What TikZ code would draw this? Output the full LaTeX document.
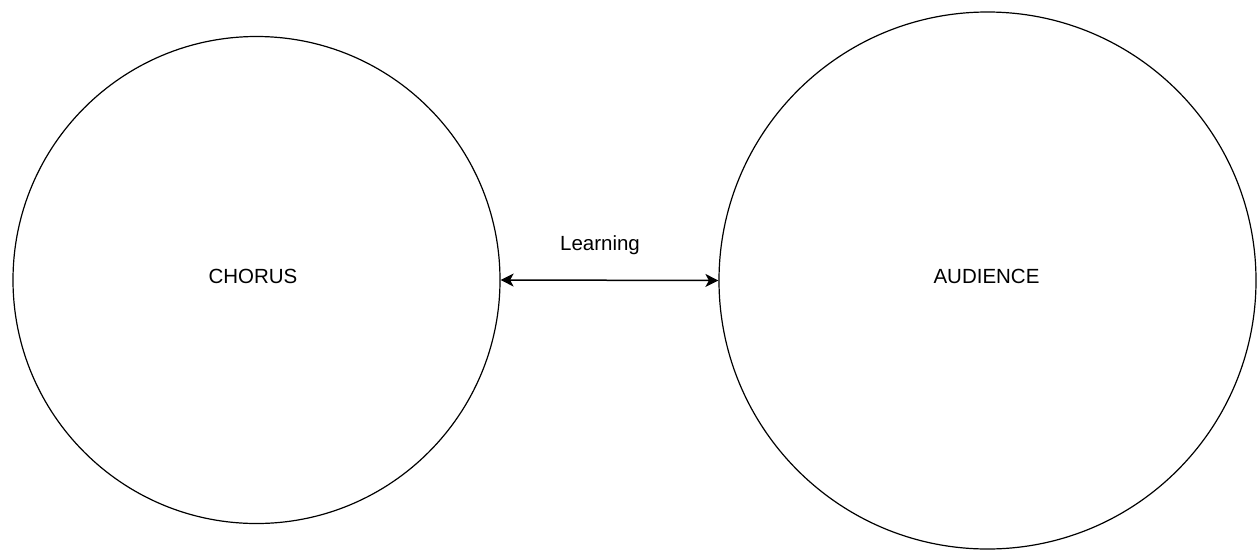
\documentclass[tikz,border=0pt]{standalone}
\usepackage{fontspec}
\setmainfont{Liberation Sans}
\usetikzlibrary{arrows.meta}
\tikzset{
  bubble/.style={draw=black, line width=1.2pt, circle, inner sep=0pt, font=\fontsize{20.5}{24}\selectfont},
  link/.style={line width=1.5pt, {Stealth[length=13pt,width=13pt,inset=3.5pt]}-{Stealth[length=13pt,width=13pt,inset=3.5pt]}},
  caption/.style={font=\fontsize{20.5}{24}\selectfont, inner sep=0pt}
}
\begin{document}
\begin{tikzpicture}[x=1pt, y=-1pt]
  \useasboundingbox[fill=white] (0,0) rectangle (1257,552);
  \node[bubble, minimum size=487pt] (chorus) at (256.5,280) {};
  \node[caption] (chorustext) at (253,276) {CHORUS};
  \node[bubble, minimum size=537pt] (audience) at (987.5,280.5) {};
  \node[caption] (audiencetext) at (986.5,276) {AUDIENCE};
  \draw[link] (chorus.east) -- (audience.west);
  \node[caption] (learning) at (600,245.5) {Learning};
\end{tikzpicture}
\end{document}
